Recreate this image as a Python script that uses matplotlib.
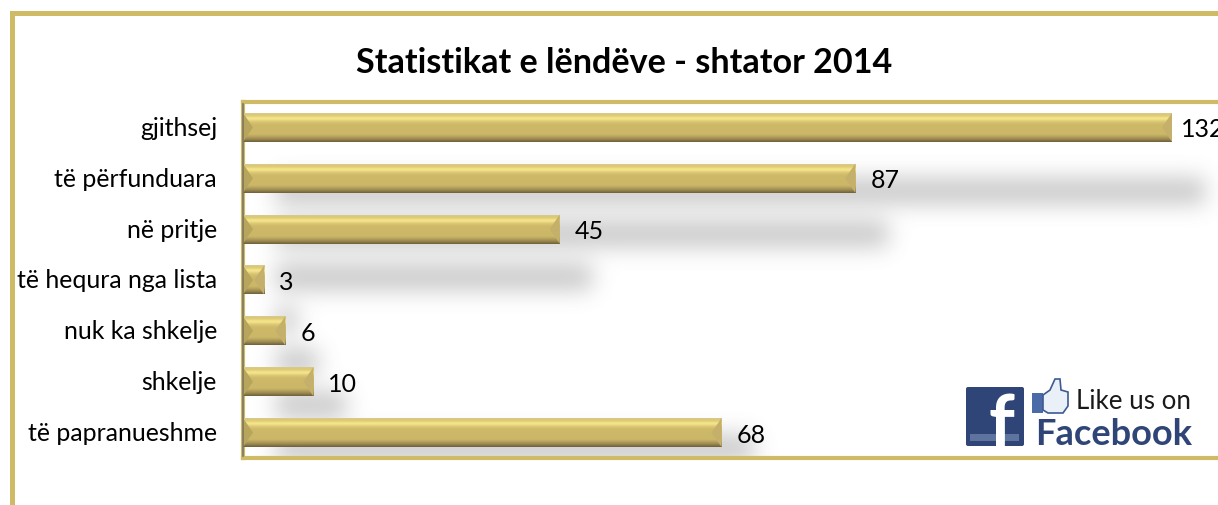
import numpy as np
import matplotlib
matplotlib.use('Agg')
import matplotlib.pyplot as plt
from matplotlib.colors import LinearSegmentedColormap
from matplotlib.patches import Polygon, Rectangle, FancyBboxPatch
from matplotlib.transforms import ScaledTranslation

plt.rcParams['font.family'] = ['Lato', 'DejaVu Sans']

# Chart data
categories = ['gjithsej', 'të përfunduara', 'në pritje', 'të hequra nga lista',
              'nuk ka shkelje', 'shkelje', 'të papranueshme']
values = [132, 87, 45, 3, 6, 10, 68]
title = 'Statistikat e lëndëve - shtator 2014'

GOLD = '#cfbb66'
W, H = 1218, 506

fig = plt.figure(figsize=(W / 100, H / 100), dpi=100, facecolor='white')

# Main axes: left 243, right edge of the image, top 103, bottom 459 (pixels)
AX_TOP, AX_BOT = 103, 459
ax = fig.add_axes([243 / W, (H - AX_BOT) / H, (W - 243) / W, (AX_BOT - AX_TOP) / H])
px_per_unit = 929 / 132
ax.set_facecolor('none')
px_per_row = (AX_BOT - AX_TOP) / len(values)

bar_height = 29 / px_per_row
bevel = 10 / px_per_unit

# Blurred, slightly squashed shadow behind the bars
ax_w, ax_h = W - 243, AX_BOT - AX_TOP
pad = 60
shadow = np.zeros((ax_h + 2 * pad, ax_w + 2 * pad))
for i, v in enumerate(values):
    yc = AX_TOP + (i + 0.5) * px_per_row
    sy = 85 + 0.84 * yc - AX_TOP + pad
    x0, x1 = int(33 + pad), int(v * px_per_unit + 33 + pad)
    shadow[int(sy - 13):int(sy + 13), x0:x1] = 1
# blur with a pad so the fade does not stop at the axes edges
sigma = 11
kx = np.arange(-3 * sigma, 3 * sigma + 1)
kernel = np.exp(-kx**2 / (2 * sigma**2))
kernel /= kernel.sum()
shadow = np.apply_along_axis(lambda r: np.convolve(r, kernel, mode='same'), 0, shadow)
shadow = np.apply_along_axis(lambda r: np.convolve(r, kernel, mode='same'), 1, shadow)
shadow = shadow[pad:-pad, pad:-pad]
rgba = np.zeros((ax_h, ax_w, 4))
rgba[..., :3] = 0.35
rgba[..., 3] = shadow * 0.33
ax.imshow(rgba, extent=[0, 1, 0, 1], transform=ax.transAxes, aspect='auto', zorder=1)

# Bevelled gold bars
bar_cmap = LinearSegmentedColormap.from_list('gold_bar', [
    (0.00, '#d8ca90'), (0.07, '#dac872'), (0.18, '#f8e88c'), (0.30, '#d9c574'),
    (0.38, '#cdb968'), (0.74, '#cbb767'), (0.83, '#b3a05c'), (0.92, '#94834d'), (1.00, '#6f613b')])
grad = np.linspace(0, 1, 64).reshape(-1, 1)
for i, v in enumerate(values):
    top, bot = i - bar_height / 2, i + bar_height / 2
    ax.imshow(grad, cmap=bar_cmap, extent=[0, v, bot, top], aspect='auto',
              zorder=3, interpolation='bilinear')
    tip = min(bevel, v / 2)
    ax.add_patch(Polygon([[v, top], [v, bot], [v - tip, i]], closed=True,
                         facecolor='#c4b06a', edgecolor='none', zorder=4))
    ax.add_patch(Polygon([[0, top], [0, bot], [tip, i]], closed=True,
                         facecolor='#b8a55c', edgecolor='none', zorder=4))
    # the longest bar has its label pushed closer to the bar end
    gap = 9 if v == max(values) else 15
    ax.text(v + gap / px_per_unit, i + 1.5 / px_per_row, str(v), va='center', ha='left',
            fontsize=18, color='black', zorder=5, clip_on=False)
ax.set_xlim(0, (W - 243) / px_per_unit)
ax.set_ylim(len(values) - 0.5, -0.5)

ax.set_yticks(range(len(categories)))
ax.set_yticklabels(categories, fontsize=17.9)
ax.tick_params(axis='y', length=0, pad=26 * 0.72)
# nudge the category labels up a little
for lab in ax.get_yticklabels():
    lab.set_transform(lab.get_transform() + ScaledTranslation(0, 2 / 100, fig.dpi_scale_trans))
ax.set_xticks([])
for side in ['top', 'bottom', 'left']:
    ax.spines[side].set_color(GOLD)
    ax.spines[side].set_linewidth(3)
ax.spines['right'].set_visible(False)

# Overlay in image pixels for the frame, title and logo
ov = fig.add_axes([0, 0, 1, 1], facecolor='none')
ov.set_xlim(0, W)
ov.set_ylim(H, 0)
ov.axis('off')

ov.add_patch(Rectangle((10, 12), W - 10, 5, facecolor=GOLD, edgecolor='none'))
ov.add_patch(Rectangle((10, 12), 5, H - 12, facecolor=GOLD, edgecolor='none'))
ov.plot([242.5, 242.5], [105, 457], color='#7d7660', lw=1.2)

ov.text(624, 63, title, ha='center', va='center', fontsize=24.6, fontweight='bold', color='black')

# "Like us on Facebook" badge
navy = '#2f4577'
ov.add_patch(FancyBboxPatch((966, 388), 58, 59, boxstyle='round,pad=0,rounding_size=2',
                            facecolor=navy, edgecolor='none'))
ov.add_patch(Rectangle((970, 435), 49, 7, facecolor='#5f739f', edgecolor='none'))
f_txt = ov.text(1001, 447, 'f', ha='center', va='baseline', fontsize=52, fontweight='bold', color='white')
f_txt.set_clip_path(Rectangle((966, 388), 58, 59, transform=ov.transData))
ov.add_patch(Rectangle((1032, 394), 11, 20, facecolor='#4a6aa8', edgecolor='none'))
thumb = [[1043, 396], [1050, 391], [1055, 380], [1060, 380], [1061, 391], [1068, 393],
         [1068, 407], [1063, 414], [1048, 414], [1043, 411]]
ov.add_patch(Polygon(thumb, closed=True, facecolor='#eaf0f8', edgecolor='#3d5a94', lw=1.2))
ov.text(1076, 409, 'Like us on', ha='left', va='baseline', fontsize=18.6, color='#1a1a1a')
ov.text(1035, 445, 'Facebook', ha='left', va='baseline', fontsize=26, fontweight='bold', color=navy)

fig.savefig('out.png', dpi=100)
